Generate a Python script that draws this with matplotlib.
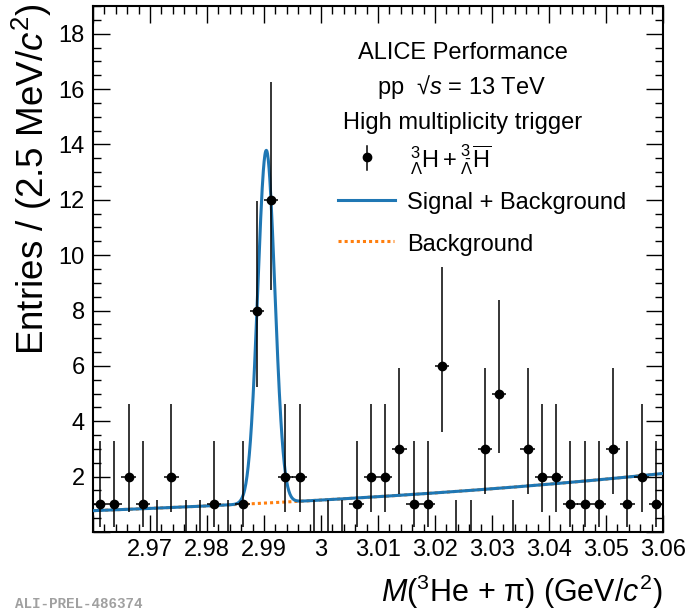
import numpy as np
import matplotlib
matplotlib.use('Agg')
import matplotlib.pyplot as plt
from matplotlib.ticker import MultipleLocator, FuncFormatter
from matplotlib.lines import Line2D

plt.rcParams['font.family'] = ['Liberation Sans', 'DejaVu Sans']
plt.rcParams['mathtext.fontset'] = 'custom'
plt.rcParams['mathtext.rm'] = 'Liberation Sans'
plt.rcParams['mathtext.it'] = 'Liberation Sans:italic'
plt.rcParams['mathtext.bf'] = 'Liberation Sans:bold'

# M(3He + pi) histogram, 2.5 MeV/c^2 bins from 2.96 to 3.06 GeV/c^2
bin_low = 2.96
bin_width = 0.0025
counts = [1, 1, 2, 1, 0, 2, 0, 0, 1, 0,
          1, 8, 12, 2, 2, 0, 0, 0, 1, 2,
          2, 3, 1, 1, 6, 0, 0, 3, 5, 0,
          3, 2, 2, 1, 1, 1, 3, 1, 2, 1]

# 68% Poisson intervals for each count value
poisson_lo = {0: 0.0, 1: 0.173, 2: 0.708, 3: 1.367, 5: 2.840, 6: 3.620, 8: 5.254, 12: 8.739}
poisson_hi = {0: 1.148, 1: 3.300, 2: 4.638, 3: 5.918, 5: 8.382, 6: 9.584, 8: 11.946, 12: 16.267}

# fit: gaussian signal + exponential background
sig_amp = 12.74
sig_mu = 2.9904
sig_sigma = 0.0015
bkg_norm = 0.77
bkg_slope = 10.1

W, H = 690, 612
FS = 17


def fx(px):
    return px / W


def fy(py):
    return 1 - py / H


counts = np.array(counts)
centers = bin_low + bin_width * (np.arange(len(counts)) + 0.5)
lo = np.array([poisson_lo[c] for c in counts])
hi = np.array([poisson_hi[c] for c in counts])

fig = plt.figure(figsize=(W / 100, H / 100), dpi=100)
ax = fig.add_axes([fx(93), fy(532), fx(663) - fx(93), fy(6) - fy(532)])

xs = np.linspace(2.96, 3.06, 1500)
bkg = bkg_norm * np.exp(bkg_slope * (xs - 2.96))
sig = sig_amp * np.exp(-0.5 * ((xs - sig_mu) / sig_sigma) ** 2)
ax.plot(xs, bkg, color='#ff7f0e', lw=2.2, ls=(0, (1, 1)), zorder=2)
ax.plot(xs, bkg + sig, color='#1f77b4', lw=2.2, zorder=3)

nz = counts > 0
ax.errorbar(centers[nz], counts[nz], xerr=bin_width / 2,
            yerr=[counts[nz] - lo[nz], hi[nz] - counts[nz]],
            fmt='o', color='black', ms=6, elinewidth=1.1, capsize=0, zorder=4)
ax.vlines(centers[~nz], 0, hi[~nz], color='black', lw=1.1, zorder=4)

ax.set_xlim(2.96, 3.06)
ax.set_ylim(0, 19)
ax.xaxis.set_major_locator(MultipleLocator(0.01))
ax.xaxis.set_minor_locator(MultipleLocator(0.002))
ax.yaxis.set_major_locator(MultipleLocator(2))
ax.yaxis.set_minor_locator(MultipleLocator(0.5))
ax.xaxis.set_major_formatter(FuncFormatter(
    lambda v, p: '' if abs(v - 2.96) < 1e-6 else '{:g}'.format(round(v, 3))))
ax.yaxis.set_major_formatter(FuncFormatter(
    lambda v, p: '' if abs(v) < 1e-6 else '{:g}'.format(v)))
ax.tick_params(which='both', direction='in', top=True, right=True,
               labelsize=FS, width=1.0)
ax.tick_params(which='major', length=12)
ax.tick_params(which='minor', length=6)
ax.tick_params(axis='x', pad=5)
ax.tick_params(axis='y', pad=6)
for sp in ax.spines.values():
    sp.set_linewidth(1.5)

# axis titles
fig.text(fx(32), fy(3), r'Entries / (2.5 MeV/$c^{2}$)', rotation=90,
         ha='center', va='top', fontsize=26.5)
fig.text(fx(662), fy(602), r'$M$($^{3}$He + π) (GeV/$c^{2}$)',
         ha='right', va='baseline', fontsize=22)

# header
fig.text(fx(463), fy(59), 'ALICE Performance', ha='center', va='baseline', fontsize=FS)
fig.text(fx(462), fy(94), 'pp  √$s$ = 13 TeV', ha='center', va='baseline', fontsize=FS)
fig.text(fx(463), fy(129), 'High multiplicity trigger', ha='center', va='baseline',
         fontsize=FS)

# legend
fig.add_artist(Line2D([fx(367), fx(367)], [fy(146), fy(170)], color='black', lw=1.1))
fig.add_artist(Line2D([fx(367)], [fy(157)], marker='o', color='black', ms=6))
fig.text(fx(410), fy(168), r'$^{3}_{\Lambda}\mathrm{H} + ^{3}_{\bar{\Lambda}}\overline{\mathrm{H}}$',
         ha='left', va='baseline', fontsize=FS)
fig.add_artist(Line2D([fx(338), fx(395)], [fy(200), fy(200)], color='#1f77b4', lw=2.2))
fig.text(fx(407), fy(209), 'Signal + Background', ha='left', va='baseline', fontsize=FS)
fig.add_artist(Line2D([fx(338), fx(394)], [fy(241), fy(241)], color='#ff7f0e', lw=2.2,
                      ls=(0, (1, 1))))
fig.text(fx(407), fy(250.5), 'Background', ha='left', va='baseline', fontsize=FS)

fig.text(fx(15), fy(608), 'ALI-PREL-486374', family='Liberation Mono', weight='bold',
         color='#a0a0a0', fontsize=10.3, ha='left', va='baseline')

fig.savefig('out.png', dpi=100)
